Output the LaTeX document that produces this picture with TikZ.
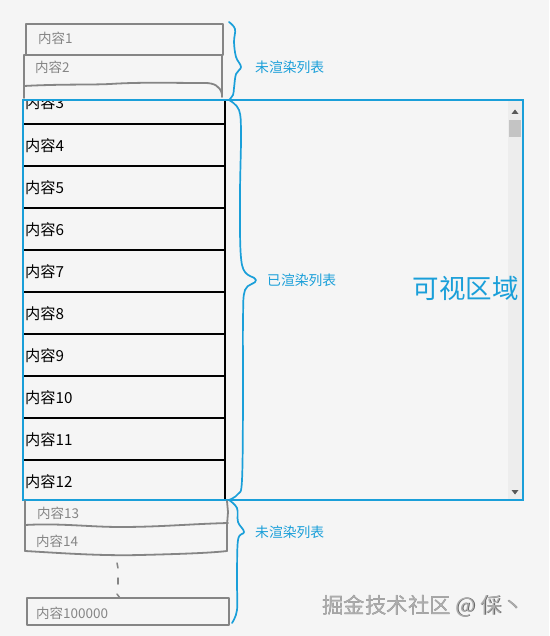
\documentclass[tikz,border=0pt]{standalone}
\usepackage{fontspec}
\setmainfont{Noto Sans CJK SC}
\begin{document}
\begin{tikzpicture}[x=1pt,y=-1pt,
  blu/.style={draw=bluec,line width=1.8pt},
  gbox/.style={draw=grayc,line width=1.8pt,line join=round,line cap=round},
  rowline/.style={draw=black,line width=1.2pt},
  gtxt/.style={anchor=west,text=grayc,font=\fontsize{13.5}{13.5}\selectfont,inner sep=0pt},
  btxt/.style={anchor=west,text=black,font=\fontsize{15.2}{15.2}\selectfont,inner sep=0pt},
  lbl/.style={anchor=west,text=bluec,font=\fontsize{13.8}{13.8}\selectfont,inner sep=0pt},
  brace/.style={draw=bluec,line width=1.7pt,line cap=round,line join=round}]
\definecolor{bluec}{HTML}{1A9FD9}
\definecolor{grayc}{HTML}{858585}
\definecolor{bgc}{HTML}{F5F5F5}
\useasboundingbox (0,0) rectangle (549,636);
\fill[bgc] (0,0) rectangle (549,636);

% top unrendered items
\draw[gbox] (26,55) -- (26,24) -- (223,24) -- (223,55) -- (24,55);
\draw[gbox] (24,55) -- (24,98);
\draw[gbox] (222,55) -- (222,97);
\draw[gbox] (24,86) .. controls (60,84) and (90,85) .. (110,84) .. controls (140,82) and (170,83) .. (205,83) .. controls (214,83) and (220,86) .. (222,94);
\node[gtxt] (t1) at (38,38) {内容1};
\node[gtxt] (t2) at (35,67) {内容2};

% scrollbar
\fill[black!7] (508,101) rectangle (522,499);
\fill[black!23] (509,120) rectangle (521,137);
\fill[black!65] (511.5,114) -- (518.5,114) -- (515,109.5) -- cycle;
\fill[black!65] (511.5,490) -- (518.5,490) -- (515,494.5) -- cycle;

% rendered rows
\begin{scope}
\clip (23,101) rectangle (226,500);
\node[btxt] (r3) at (25,103) {内容3};
\end{scope}
\foreach \y in {124,166,208,250,292,334,376,418,460} {
  \draw[rowline] (23,\y) -- (225,\y);
}
\draw[rowline] (225,100) -- (225,500);
\node[btxt] (r4) at (25,146) {内容4};
\node[btxt] (r5) at (25,188) {内容5};
\node[btxt] (r6) at (25,230) {内容6};
\node[btxt] (r7) at (25,272) {内容7};
\node[btxt] (r8) at (25,314) {内容8};
\node[btxt] (r9) at (25,356) {内容9};
\node[btxt] (r10) at (25,398) {内容10};
\node[btxt] (r11) at (25,440) {内容11};
\node[btxt] (r12) at (25,482) {内容12};

% viewport
\draw[blu] (23,100) rectangle (523,500);
\node[anchor=center,text=bluec,font=\fontsize{26.5}{26.5}\selectfont,inner sep=0pt] (view) at (465.5,288) {可视区域};

% bottom unrendered items
\draw[gbox] (25,501) -- (25,551);
\draw[gbox] (227,501) -- (228,512) -- (227,525);
\draw[gbox] (25,525) .. controls (60,523) and (90,527) .. (120,527) .. controls (160,527) and (190,524) .. (228,523);
\draw[gbox] (227,525) -- (227,551);
\draw[gbox] (25,551) .. controls (60,553) and (100,556) .. (140,555) .. controls (180,554) and (210,553) .. (227,551);
\node[gtxt] (t13) at (37,513) {内容13};
\node[gtxt] (t14) at (36,541) {内容14};
\draw[gbox,line width=1.5pt] (117,563) -- (118,568);
\draw[gbox,line width=1.5pt] (118,578) -- (118,584);
\draw[gbox,line width=1.5pt] (117,594) -- (120,598);
\draw[gbox] (27,598) rectangle (229,625);
\node[gtxt] (t100000) at (36,613) {内容100000};

% braces
\draw[brace] plot[smooth,tension=0.6] coordinates {(229,22) (235,29) (234,42) (236,57) (241,67) (236,74) (234,88) (233,95) (229,100)};
\draw[brace] plot[smooth,tension=0.6] coordinates {(229,100) (239,110) (241,135) (240,200) (242,265) (256,280) (245,290) (243,320) (243,400) (242,480) (238,494) (229,500)};
\draw[brace] plot[smooth,tension=0.6] coordinates {(229,500) (237,508) (238,522) (244,532) (238,540) (237,580) (237,610) (232,623)};
\node[lbl] (l1) at (255,67) {未渲染列表};
\node[lbl] (l2) at (267,280) {已渲染列表};
\node[lbl] (l3) at (255,532) {未渲染列表};

% watermark
\node[anchor=center,text=black!60,font=\fontsize{21.5}{21.5}\selectfont,inner sep=0pt] at (423.4,606.4) {掘金技术社区 @ 倸丶};
\node[anchor=center,text=black!32,font=\fontsize{21.5}{21.5}\selectfont,inner sep=0pt] (wm) at (423,606) {掘金技术社区 @ 倸丶};
\end{tikzpicture}
\end{document}
